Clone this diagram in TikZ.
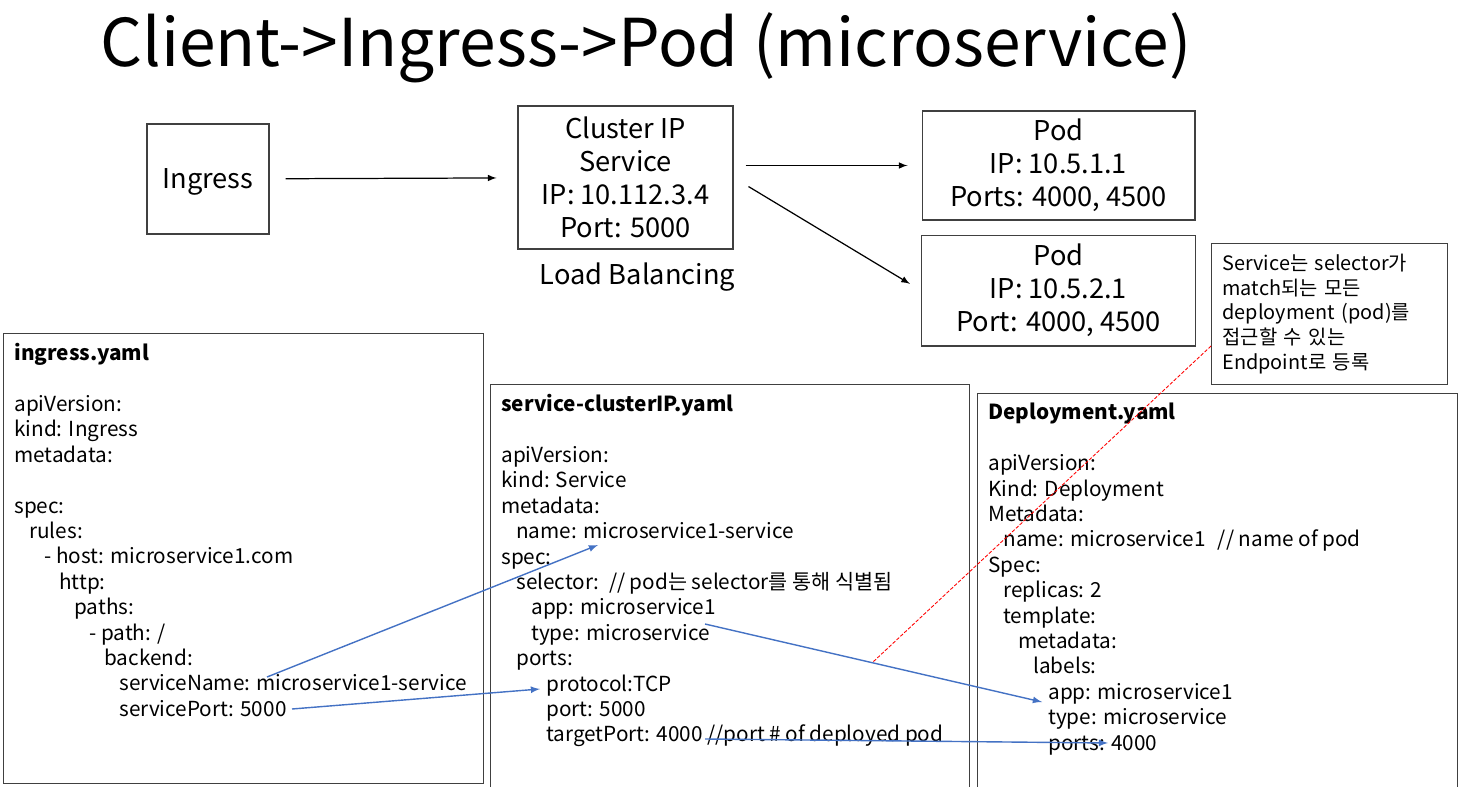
\documentclass[tikz,border=0pt]{standalone}
\usepackage{fontspec}
\setmainfont{Noto Sans CJK KR}
\usepackage{tikz}
\usetikzlibrary{positioning}
\usetikzlibrary{calc}
\usetikzlibrary{shapes.geometric,arrows}
\definecolor{linkblue}{RGB}{68,114,196}
\definecolor{boxgray}{RGB}{64,64,64}
\newcommand{\yind}[1]{\hspace*{\dimexpr0.3cm*#1\relax}}
\tikzstyle{arrow}=
[line width=0.7pt,->,>=latex]
\tikzstyle{bluearrow}=
[line width=0.8pt,->,>=latex,draw=linkblue]
\tikzstyle{topbox}=
[rectangle,
draw=boxgray,
line width=0.6pt,
align=center,
font=\fontsize{15.5}{18.7}\selectfont]
\tikzstyle{yamlbox}=
[rectangle,
draw=boxgray,
line width=0.6pt,
anchor=north west,
minimum width=9.6cm,
minimum height=8.4cm]
\tikzstyle{yamltext}=
[anchor=north west,
inner sep=0pt,
align=left,
font=\fontsize{11.8}{14.46}\selectfont]

\begin{document}
\begin{tikzpicture}[x=0.02cm,y=-0.02cm]
\useasboundingbox (0,0) rectangle (1458,787);
\clip (0,0) rectangle (1458,787);
\node (title)
[anchor=west,
inner sep=0pt,
font=\fontsize{37.5}{44}\selectfont]
at (100,48) {Client->Ingress->Pod (microservice)};
% top row
\node (ingress)
[topbox,
text depth=0pt,
minimum width=2.44cm,
minimum height=2.2cm]
at (208,179) {Ingress};
\node (cluster)
[topbox,
minimum width=4.3cm,
minimum height=2.86cm]
at (625.5,177.5) {Cluster IP\\Service\\IP: 10.112.3.4\\Port: 5000};
\node (lb)
[inner sep=0pt,
font=\fontsize{15.5}{18.7}\selectfont,
below=0.26cm of cluster,
xshift=0.24cm]
{Load Balancing};
\node (pod1)
[topbox,
minimum width=5.46cm,
minimum height=2.18cm]
at (1058.5,165.5) {Pod\\IP: 10.5.1.1\\Ports: 4000, 4500};
\node (pod2)
[topbox,
minimum width=5.48cm,
minimum height=2.22cm,
below=0.28cm of pod1]
{Pod\\IP: 10.5.2.1\\Port: 4000, 4500};
\draw[arrow,shorten <=0.32cm,shorten >=0.42cm](ingress)--(cluster);
\draw[arrow,shorten <=0.24cm,shorten >=0.28cm](cluster.east |- pod1.west)--(pod1.west);
\draw[arrow,shorten <=0.35cm,shorten >=0.26cm](cluster.east)--(pod2.west);
% note
\node (note)
[rectangle,
draw=boxgray,
line width=0.6pt,
anchor=north west,
text width=4.28cm,
inner xsep=0.22cm,
minimum height=2.82cm,
align=left,
font=\fontsize{11.3}{14.2}\selectfont]
at (1211,243) {Service는 selector가\\match되는 모든\\deployment (pod)를\\접근할 수 있는\\Endpoint로 등록};
% yaml files
\node (ingbox)
[yamlbox,
minimum height=9.0cm]
at (3,333) {};
\node (ingtext)
[yamltext,
below right=0.2cm and 0.22cm of ingbox.north west]
{\textbf{ingress.yaml}\\
~\\
apiVersion:\\
kind: Ingress\\
metadata:\\
~\\
spec:\\
\yind{1}rules:\\
\yind{2}- host: microservice1.com\\
\yind{3}http:\\
\yind{4}paths:\\
\yind{5}- path: /\\
\yind{6}backend:\\
\yind{7}serviceName: microservice1-service\\
\yind{7}servicePort: 5000};
\node (svcbox)
[yamlbox,
minimum width=9.58cm]
at (490,384) {};
\node (svctext)
[yamltext,
below right=0.2cm and 0.22cm of svcbox.north west]
{\textbf{service-clusterIP.yaml}\\
~\\
apiVersion:\\
kind: Service\\
metadata:\\
\yind{1}name: microservice1-service\\
spec:\\
\yind{1}selector:\ \ // pod는 selector를 통해 식별됨\\
\yind{2}app: microservice1\\
\yind{2}type: microservice\\
\yind{1}ports:\\
\yind{3}protocol:TCP\\
\yind{3}port: 5000\\
\yind{3}targetPort: 4000 //port \# of deployed pod};
\node (depbox)
[yamlbox]
at (977,393) {};
\node (deptext)
[yamltext,
below right=0.2cm and 0.22cm of depbox.north west]
{\textbf{Deployment.yaml}\\
~\\
apiVersion:\\
Kind: Deployment\\
Metadata:\\
\yind{1}name: microservice1\hspace{0.6em}// name of pod\\
Spec:\\
\yind{1}replicas: 2\\
\yind{1}template:\\
\yind{2}metadata:\\
\yind{3}labels:\\
\yind{4}app: microservice1\\
\yind{4}type: microservice\\
\yind{4}ports: 4000};
% links between the files
\coordinate (ingName) at (267,677);
\coordinate (svcName) at (598,545);
\coordinate (ingPort) at (292,709);
\coordinate (svcProto) at (540,689);
\coordinate (svcType) at (705,624);
\coordinate (depApp) at (1042,702);
\coordinate (svcTarget) at (705,739);
\coordinate (depPorts) at (1108,743);
\coordinate (svcSel) at (873,662);
\draw[bluearrow](ingName)--(svcName);
\draw[bluearrow](ingPort)--(svcProto);
\draw[bluearrow](svcType)--(depApp);
\draw[bluearrow](svcTarget)--(depPorts);
\draw[red,line width=0.5pt,dash pattern=on 2pt off 1pt]($(note.south west)+(0,-39)$)--(svcSel);
\end{tikzpicture}
\end{document}
